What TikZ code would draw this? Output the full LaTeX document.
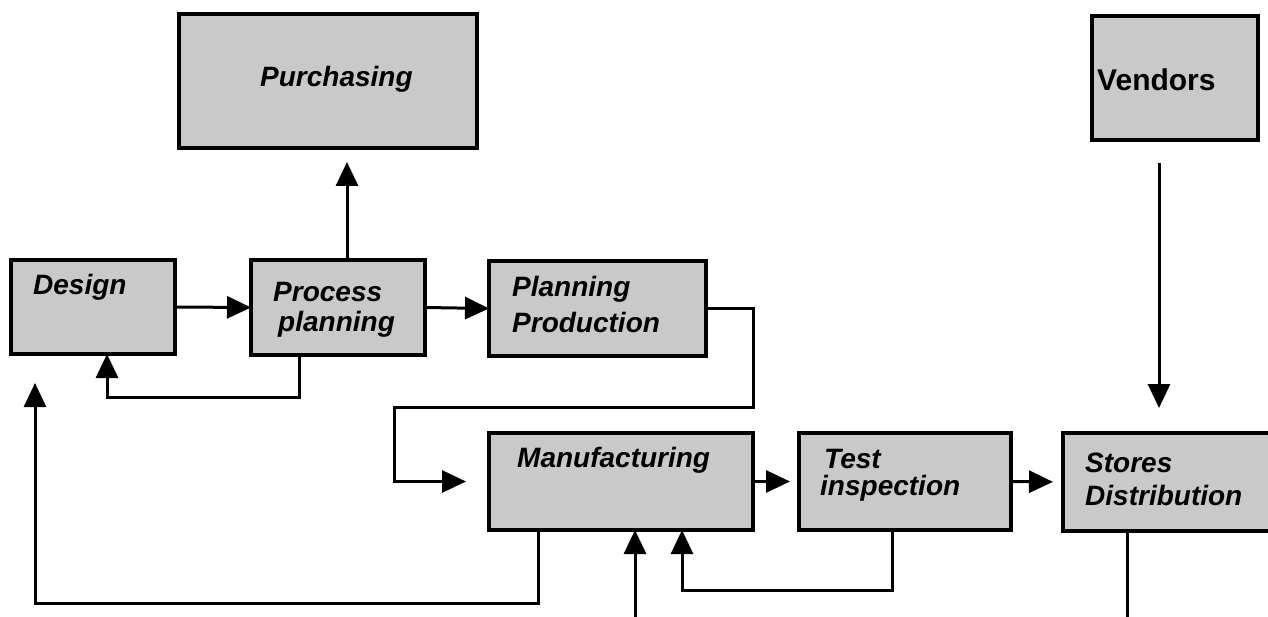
\documentclass[tikz,border=0pt]{standalone}
\usepackage{fontspec}
\setmainfont{Liberation Sans}
\usetikzlibrary{arrows.meta}
\definecolor{boxgray}{gray}{0.79}
\begin{document}
\begin{tikzpicture}[x=1pt,y=-1pt,
  box/.style={draw=black, line width=3.5pt, fill=boxgray, inner sep=0pt, outer sep=0pt, anchor=north west},
  lbl/.style={anchor=base west, inner sep=0pt, font=\fontsize{28}{34}\selectfont\bfseries\itshape},
  lblup/.style={anchor=base west, inner sep=0pt, font=\fontsize{30}{36}\selectfont\bfseries},
  conn/.style={line width=3pt},
  arr/.style={conn, -{Triangle[length=24pt,width=22pt]}}]
\useasboundingbox (0,0) rectangle (1268,617);
\fill[white] (0,0) rectangle (1268,617);

% boxes
\node[box, minimum width=298pt, minimum height=134pt] (purch) at (179,14) {};
\node[box, minimum width=166pt, minimum height=124pt] (vend) at (1092,16) {};
\node[box, minimum width=164pt, minimum height=94pt] (design) at (11,260) {};
\node[box, minimum width=174pt, minimum height=95pt] (proc) at (251,260) {};
\node[box, minimum width=217pt, minimum height=95pt] (planp) at (489,261) {};
\node[box, minimum width=264pt, minimum height=97pt] (manuf) at (489,433) {};
\node[box, minimum width=212pt, minimum height=97pt] (test) at (799,433) {};
\node[box, minimum width=240pt, minimum height=98pt] (stores) at (1063,433) {};

% labels
\node[lbl] (tpurch) at (260,87) {Purchasing};
\node[lblup] (tvend) at (1097,91) {Vendors};
\node[lbl] (tdesign) at (33,295) {Design};
\node[lbl] (tproc1) at (273,302) {Process};
\node[lbl] (tproc2) at (278,331) {planning};
\node[lbl] (tplan1) at (512,297) {Planning};
\node[lbl] (tplan2) at (512,333) {Production};
\node[lbl] (tmanuf) at (517,467) {Manufacturing};
\node[lbl] (ttest1) at (824,468) {Test};
\node[lbl] (ttest2) at (820,495) {inspection};
\node[lbl] (tstor1) at (1085,472) {Stores};
\node[lbl] (tstor2) at (1085,505) {Distribution};

% helper coordinates
\coordinate (pu) at (347,0);
\coordinate (pd1) at (299,397);
\coordinate (pd2) at (107,397);
\coordinate (r1) at (753,407);
\coordinate (r2) at (394,407);
\coordinate (v1) at (1159,163);
\coordinate (m1) at (538,603);
\coordinate (m2) at (35,603);
\coordinate (in1) at (635,620);
\coordinate (t1) at (892,590);
\coordinate (t2) at (682,590);
\coordinate (s1) at (1127,620);

% connectors
\draw[arr] (design.east) -- (proc.west);
\draw[arr, shorten >=14pt] (proc.north -| pu) -- (purch.south -| pu);
\draw[arr] (proc.south -| pd1) -- (pd1) -- (pd2) -- (design.south -| pd2);
\draw[arr] (proc.east) -- (planp.west);
\draw[arr, shorten >=23pt] (planp.east) -| (r1) -- (r2) |- (manuf.west);
\draw[arr, shorten >=9pt] (manuf.east) -- (test.west);
\draw[arr, shorten >=10pt] (test.east) -- (stores.west);
\draw[arr, shorten >=25pt] (v1) -- (stores.north -| v1);
\draw[arr, shorten >=29pt] (manuf.south -| m1) -- (m1) -- (m2) -- (design.south -| m2);
\draw[arr] (in1) -- (manuf.south -| in1);
\draw[arr] (test.south -| t1) -- (t1) -- (t2) -- (manuf.south -| t2);
\draw[conn] (stores.south -| s1) -- (s1);
\end{tikzpicture}
\end{document}
